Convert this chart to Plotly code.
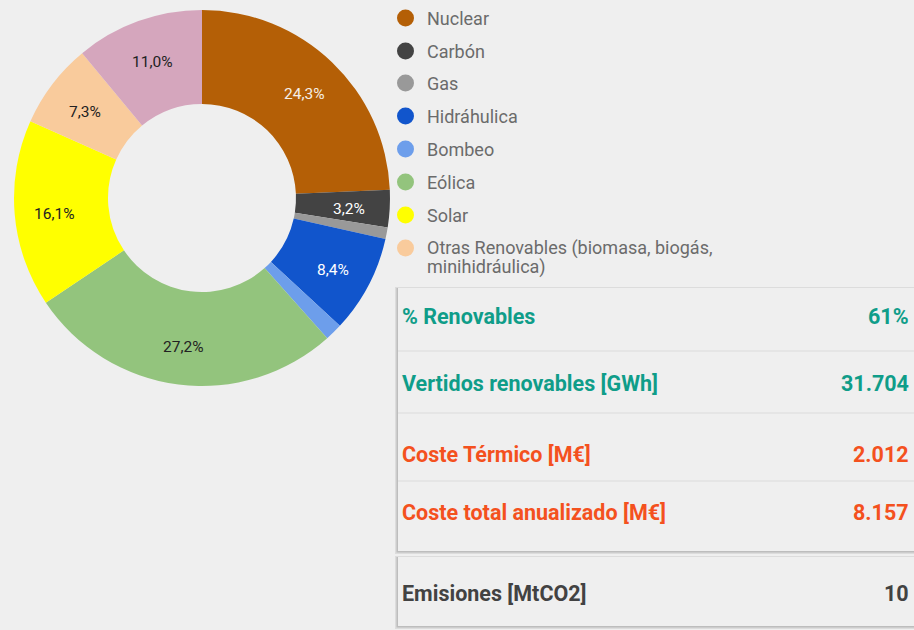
import math
import plotly.graph_objects as go

# ---- data ----
labels = ["Nuclear", "Carbón", "Gas", "Hidráhulica", "Bombeo", "Eólica", "Solar",
          "Otras Renovables (biomasa, biogás, minihidráulica)", "Cogeneración"]
values = [24.3, 3.2, 1.0, 8.4, 1.5, 27.2, 16.1, 7.3, 11.0]
colors = ["#b45f06", "#434343", "#999999", "#1155cc", "#6d9eeb", "#93c47d",
          "#ffff00", "#f9cb9c", "#d5a6bd"]
label_font_colors = ["#f6efe6", "#ffffff", "#ffffff", "#ffffff", "#ffffff",
                     "#222222", "#222222", "#222222", "#222222"]
legend_lines = [["Nuclear"], ["Carbón"], ["Gas"], ["Hidráhulica"], ["Bombeo"], ["Eólica"],
                ["Solar"], ["Otras Renovables (biomasa, biogás,", "minihidráulica)"]]

kpi_labels = ["% Renovables", "Vertidos renovables [GWh]", "Coste Térmico [M€]",
              "Coste total anualizado [M€]", "Emisiones [MtCO2]"]
kpi_values = ["61%", "31.704", "2.012", "8.157", "10"]
kpi_colors = ["#0f9d89", "#0f9d89", "#f4511e", "#f4511e", "#424242"]

W, H = 914, 630
BG = "#efefef"

fig = go.Figure()
fig.add_trace(go.Scatter(x=[None], y=[None], showlegend=False, hoverinfo="skip"))

cx, cy, r = 202, 198, 188
fig.add_trace(go.Pie(
    labels=labels, values=values, sort=False, direction="clockwise", rotation=0,
    hole=0.5, marker=dict(colors=colors, line=dict(width=0)),
    textinfo="none",
    domain=dict(x=[(cx - r) / W, (cx + r) / W], y=[1 - (cy + r) / H, 1 - (cy - r) / H]),
    showlegend=False,
))

shapes = []
annotations = []

# slice labels, Google-Charts style placement (mid-angle, ~0.78 radius)
total = sum(values)
cum = 0.0
for v, fc in zip(values, label_font_colors):
    frac = v / total
    mid = (cum + frac / 2) * 2 * math.pi
    cum += frac
    if frac < 0.02:
        continue
    lr = 0.785 * r
    annotations.append(dict(x=cx + lr * math.sin(mid), y=cy + 3 - lr * math.cos(mid),
                            xref="x", yref="y", showarrow=False,
                            text=("%.1f%%" % (100 * frac)).replace(".", ","),
                            font=dict(family="Roboto", size=15.5, color=fc)))

# manual legend
row_y = [18, 51, 83, 116, 149, 182, 215, 248]
for lines, col, y in zip(legend_lines, colors, row_y):
    shapes.append(dict(type="circle", xref="x", yref="y", x0=397, x1=414, y0=y - 8.5, y1=y + 8.5,
                       fillcolor=col, line=dict(width=0)))
    for i, ln in enumerate(lines):
        annotations.append(dict(x=425, y=y + 19 * i, xref="x", yref="y", text=ln, showarrow=False,
                                xanchor="left", yanchor="middle", align="left",
                                font=dict(family="Roboto", size=18, color="#6b6b6b")))

# cards with shadows
def card(x0, y0, x1, y1):
    shapes.append(dict(type="rect", xref="x", yref="y", x0=x0 - 3, y0=y0 - 1, x1=x1, y1=y1 + 3,
                       fillcolor="rgba(0,0,0,0.08)", line=dict(width=0), layer="below"))
    shapes.append(dict(type="rect", xref="x", yref="y", x0=x0 - 1.5, y0=y0, x1=x1, y1=y1 + 1.5,
                       fillcolor="rgba(0,0,0,0.14)", line=dict(width=0), layer="below"))
    shapes.append(dict(type="rect", xref="x", yref="y", x0=x0, y0=y0, x1=x1, y1=y1,
                       fillcolor=BG, line=dict(width=0), layer="below"))

card(398, 288, 920, 551)
card(398, 557, 920, 626)
for ly in [351, 413, 481]:
    shapes.append(dict(type="line", xref="x", yref="y", x0=398, x1=920, y0=ly, y1=ly,
                       line=dict(color="#e2e2e2", width=1.5)))

kpi_y = [316, 383, 454, 512, 593]
for lab, val, col, y in zip(kpi_labels, kpi_values, kpi_colors, kpi_y):
    annotations.append(dict(x=400, y=y, xref="x", yref="y", text="<b>%s</b>" % lab,
                            showarrow=False, xanchor="left", yanchor="middle",
                            font=dict(family="Roboto", size=21.5, color=col)))
    annotations.append(dict(x=911, y=y, xref="x", yref="y", text="<b>%s</b>" % val,
                            showarrow=False, xanchor="right", yanchor="middle",
                            font=dict(family="Roboto", size=21.5, color=col)))

fig.update_layout(
    width=W, height=H, margin=dict(l=0, r=0, t=0, b=0),
    paper_bgcolor=BG, plot_bgcolor=BG,
    xaxis=dict(range=[0, W], visible=False, domain=[0, 1], fixedrange=True),
    yaxis=dict(range=[H, 0], visible=False, domain=[0, 1], fixedrange=True),
    shapes=shapes, annotations=annotations, showlegend=False,
)

fig.write_html("out.html", config={"displayModeBar": False},
               post_script="document.body.style.margin='0';document.body.style.overflow='hidden';")
